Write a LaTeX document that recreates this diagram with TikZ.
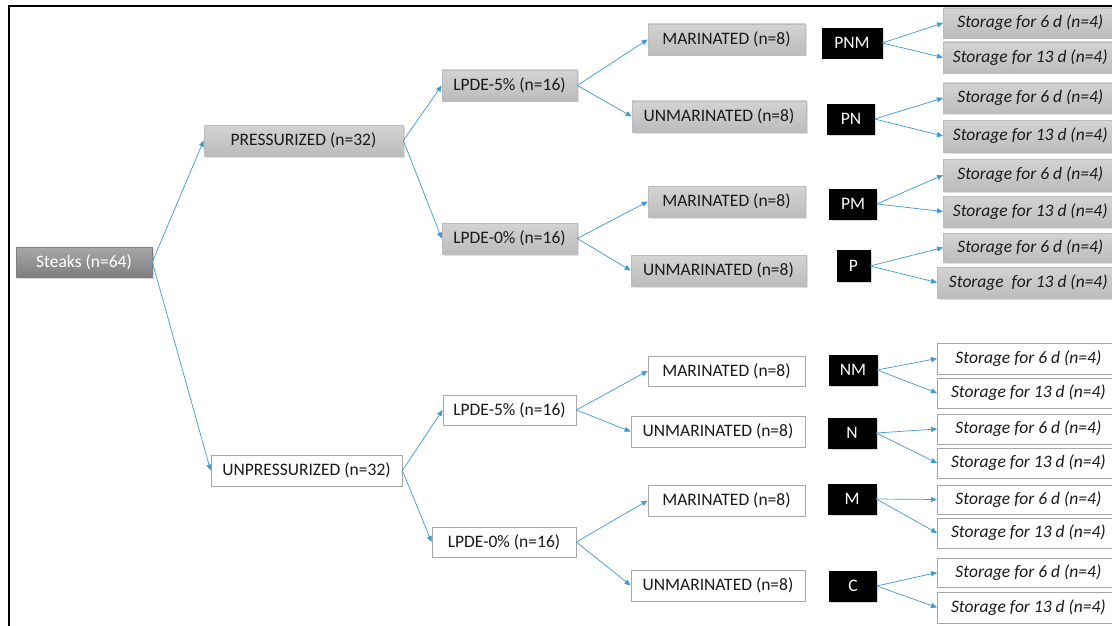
\documentclass[tikz,border=0pt]{standalone}
\usepackage{fontspec}
\setmainfont{Carlito}
\usetikzlibrary{arrows.meta,shadows}
\definecolor{arrowblue}{HTML}{3E9AD6}
\definecolor{graytop}{HTML}{D3D3D3}
\definecolor{graybot}{HTML}{BCBCBC}
\definecolor{boxedge}{HTML}{BDBDBD}
\definecolor{whiteedge}{HTML}{A8A8A8}
\definecolor{steaktop}{HTML}{A8A8A8}
\definecolor{steakbot}{HTML}{7E7E7E}
\definecolor{txt}{HTML}{1A1A1A}
\begin{document}
\begin{tikzpicture}[x=1pt,y=-1pt,
  box/.style={rectangle, inner sep=0pt, minimum height=31pt, font=\fontsize{17.5}{20}\selectfont, text=txt, anchor=center},
  graybox/.style={box, draw=boxedge, line width=0.6pt, top color=graytop, bottom color=graybot,
     drop shadow={opacity=0.25, shadow xshift=1.5pt, shadow yshift=-1.5pt}},
  whitebox/.style={box, draw=whiteedge, line width=0.8pt, fill=white},
  blackbox/.style={box, fill=black, draw=black, text=white, minimum height=30pt,
     drop shadow={opacity=0.3, shadow xshift=1.5pt, shadow yshift=-1.5pt}},
  steakbox/.style={box, draw=steakbot, line width=0.6pt, top color=steaktop, bottom color=steakbot, text=white,
     minimum height=30pt, drop shadow={opacity=0.3, shadow xshift=1.5pt, shadow yshift=-1.5pt}},
  grstor/.style={graybox, font=\fontsize{17.5}{20}\selectfont\itshape, anchor=west},
  whstor/.style={whitebox, font=\fontsize{17.5}{20}\selectfont\itshape, anchor=west},
  link/.style={arrowblue, line width=0.7pt, -{Triangle[length=6pt,width=5pt]}}
]
\useasboundingbox (0,0) rectangle (1112,626);
\clip (0,0) rectangle (1112,626);
\fill[white] (0,0) rectangle (1112,626);
\draw[black, line width=2pt] (9,6) rectangle (1140,650);

% level 0
\node[steakbox, minimum width=136pt] (steaks) at (84,262) {Steaks (n=64)};
% level 1
\node[graybox, minimum width=199pt] (pres) at (303.5,140.5) {PRESSURIZED (n=32)};
\node[whitebox, minimum width=191pt] (unpres) at (306.5,470.5) {UNPRESSURIZED (n=32)};
% level 2
\node[graybox, minimum width=135pt] (l5a) at (509.5,85.5) {LPDE-5\% (n=16)};
\node[graybox, minimum width=135pt] (l0a) at (509.5,238.5) {LPDE-0\% (n=16)};
\node[whitebox, minimum width=133pt, minimum height=30pt] (l5b) at (509.5,410) {LPDE-5\% (n=16)};
\node[whitebox, minimum width=144pt, minimum height=30pt] (l0b) at (504,542) {LPDE-0\% (n=16)};
% level 3
\node[graybox, minimum width=157pt] (m1) at (726.5,39.5) {MARINATED (n=8)};
\node[graybox, minimum width=174pt] (u1) at (719,116.5) {UNMARINATED (n=8)};
\node[graybox, minimum width=157pt] (m2) at (726.5,201.5) {MARINATED (n=8)};
\node[graybox, minimum width=175pt] (u2) at (718.5,270.5) {UNMARINATED (n=8)};
\node[whitebox, minimum width=157pt, minimum height=30pt] (m3) at (726.5,371) {MARINATED (n=8)};
\node[whitebox, minimum width=174pt] (u3) at (718,431.5) {UNMARINATED (n=8)};
\node[whitebox, minimum width=157pt] (m4) at (726.5,500.5) {MARINATED (n=8)};
\node[whitebox, minimum width=174pt] (u4) at (718,585.5) {UNMARINATED (n=8)};
% codes
\node[blackbox, minimum width=60pt] (pnm) at (852,43) {PNM};
\node[blackbox, minimum width=47pt] (pn) at (851,119) {PN};
\node[blackbox, minimum width=47pt] (pm) at (853,204) {PM};
\node[blackbox, minimum width=33pt, minimum height=31pt] (p) at (853.5,266) {P};
\node[blackbox, minimum width=48pt] (nm) at (853,370) {NM};
\node[blackbox, minimum width=48pt] (n) at (852,433) {N};
\node[blackbox, minimum width=48pt] (mm) at (852,499) {M};
\node[blackbox, minimum width=47pt] (c) at (853,586) {C};
% storage (pressurized)
\node[grstor, minimum width=174pt, minimum height=30pt] (s1) at (943,23) {Storage for 6 d (n=4)};
\node[grstor, minimum width=174pt] (s2) at (943,57.5) {Storage for 13 d (n=4)};
\node[grstor, minimum width=174pt, minimum height=30pt] (s3) at (943,98) {Storage for 6 d (n=4)};
\node[grstor, minimum width=174pt, minimum height=32pt] (s4) at (943,136) {Storage for 13 d (n=4)};
\node[grstor, minimum width=174pt, minimum height=32pt] (s5) at (943,175) {Storage for 6 d (n=4)};
\node[grstor, minimum width=174pt] (s6) at (943,211.5) {Storage for 13 d (n=4)};
\node[grstor, minimum width=174pt, minimum height=29pt] (s7) at (943,247.5) {Storage for 6 d (n=4)};
\node[grstor, minimum width=182pt] (s8) at (937,282.5) {Storage\ \ for 13 d (n=4)};
% storage (unpressurized)
\node[whstor, minimum width=182pt] (s9) at (937,358.5) {Storage for 6 d (n=4)};
\node[whstor, minimum width=182pt, minimum height=30pt] (s10) at (937,393) {Storage for 13 d (n=4)};
\node[whstor, minimum width=182pt, minimum height=30pt] (s11) at (937,429) {Storage for 6 d (n=4)};
\node[whstor, minimum width=182pt, minimum height=30pt] (s12) at (937,463) {Storage for 13 d (n=4)};
\node[whstor, minimum width=182pt, minimum height=29pt] (s13) at (937,499.5) {Storage for 6 d (n=4)};
\node[whstor, minimum width=182pt, minimum height=30pt] (s14) at (937,533) {Storage for 13 d (n=4)};
\node[whstor, minimum width=182pt, minimum height=29pt] (s15) at (937,572.5) {Storage for 6 d (n=4)};
\node[whstor, minimum width=182pt] (s16) at (937,607.5) {Storage for 13 d (n=4)};

% connectors
\draw[link] (steaks.east) -- (pres.west);
\draw[link] (steaks.east) -- (unpres.west);
\draw[link] (pres.east) -- (l5a.west);
\draw[link] (pres.east) -- (l0a.west);
\draw[link] (unpres.east) -- (l5b.west);
\draw[link] (unpres.east) -- (l0b.west);
\draw[link] (l5a.east) -- (m1.west);
\draw[link] (l5a.east) -- (u1.west);
\draw[link] (l0a.east) -- (m2.west);
\draw[link] (l0a.east) -- (u2.west);
\draw[link] (l5b.east) -- (m3.west);
\draw[link] (l5b.east) -- (u3.west);
\draw[link] (l0b.east) -- (m4.west);
\draw[link] (l0b.east) -- (u4.west);
\draw[link] (pnm.east) -- (s1.west);
\draw[link] (pnm.east) -- (s2.west);
\draw[link] (pn.east) -- (s3.west);
\draw[link] (pn.east) -- (s4.west);
\draw[link] (pm.east) -- (s5.west);
\draw[link] (pm.east) -- (s6.west);
\draw[link] (p.east) -- (s7.west);
\draw[link] (p.east) -- (s8.west);
\draw[link] (nm.east) -- (s9.west);
\draw[link] (nm.east) -- (s10.west);
\draw[link] (n.east) -- (s11.west);
\draw[link] (n.east) -- (s12.west);
\draw[link] (mm.east) -- (s13.west);
\draw[link] (mm.east) -- (s14.west);
\draw[link] (c.east) -- (s15.west);
\draw[link] (c.east) -- (s16.west);
\end{tikzpicture}
\end{document}
